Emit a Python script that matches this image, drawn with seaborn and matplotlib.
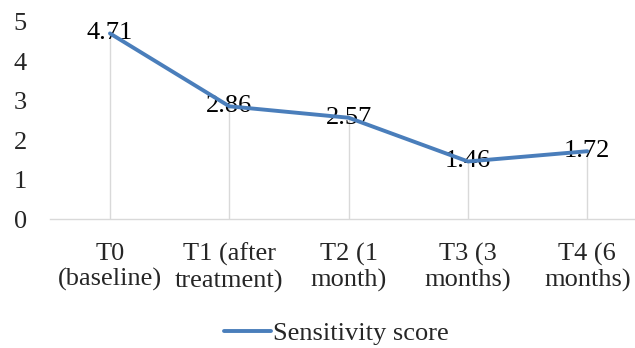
import matplotlib
matplotlib.use("Agg")
import matplotlib.pyplot as plt
import seaborn as sns
import pandas as pd

categories = ["T0\n(baseline)", "T1 (after\ntreatment)", "T2 (1\nmonth)", "T3 (3\nmonths)", "T4 (6\nmonths)"]
values = [4.71, 2.86, 2.57, 1.46, 1.72]
labels = ["4.71", "2.86", "2.57", "1.46", "1.72"]
series_name = "Sensitivity score"
yticks = [0, 1, 2, 3, 4, 5]

sns.set_theme(style="white")
plt.rcParams["font.family"] = ["Liberation Serif", "DejaVu Serif"]

FS = 19
fig = plt.figure(figsize=(6.35, 3.48), dpi=100)
ax = fig.add_axes([50.3 / 635, 129 / 348, 596.7 / 635, 197 / 348])

pos = list(range(len(categories)))

ax.vlines(pos, 0, values, colors="#d9d9d9", linewidth=1, zorder=1)
sns.lineplot(x=pos, y=values, ax=ax, color="#4a7ebb", linewidth=2.8,
             zorder=3, legend=False)
for p, v, t in zip(pos, values, labels):
    ax.text(p, v, t, ha="center", va="center", fontsize=FS, color="black", zorder=2)

ax.set_xlim(-0.5, 4.5)
ax.set_ylim(0, 5)
ax.set_yticks(yticks)
ax.set_yticklabels([str(y) for y in yticks], fontsize=FS)
ax.set_xticks(pos)
ax.set_xticklabels(categories, fontsize=FS, linespacing=1.2)
ax.tick_params(axis="both", length=0)
ax.tick_params(axis="y", pad=17)
ax.tick_params(axis="x", pad=17)
for s in ["left", "top", "right"]:
    ax.spines[s].set_visible(False)
ax.spines["bottom"].set_color("#d9d9d9")
ax.spines["bottom"].set_linewidth(1)
ax.set_xlabel("")
ax.set_ylabel("")

handles = [plt.Line2D([0], [0], color="#4a7ebb", linewidth=2.8)]
fig.legend(handles, [series_name], loc="center", bbox_to_anchor=(336 / 635, 1 - 333 / 348),
           frameon=False, fontsize=FS, handlelength=1.8, handletextpad=0.05)

fig.savefig("out.png", dpi=100)
